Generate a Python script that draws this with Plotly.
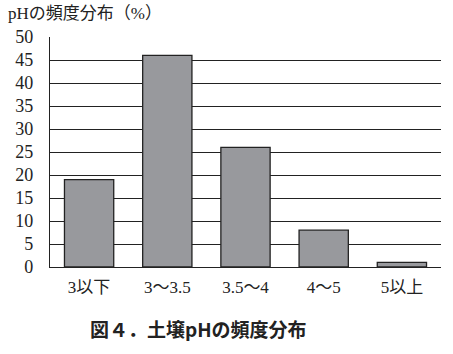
import plotly.graph_objects as go

categories = ["3以下", "3～3.5", "3.5～4", "4～5", "5以上"]
values = [19, 46, 26, 8, 1]
y_ticks = [0, 5, 10, 15, 20, 25, 30, 35, 40, 45, 50]
axis_title = "pHの頻度分布（%）"
caption = "図４．土壌pHの頻度分布"

serif = "Liberation Serif, DejaVu Serif, Noto Sans CJK JP, serif"
sans = "Noto Sans CJK JP, Noto Sans, sans-serif"

fig = go.Figure()
fig.add_trace(go.Bar(
    x=categories, y=values,
    marker=dict(color="#98999d", line=dict(color="#222222", width=1.3)),
))

fig.update_layout(
    width=453, height=354,
    margin=dict(l=50, r=12, t=37, b=87),
    paper_bgcolor="white", plot_bgcolor="white",
    bargap=0.37,
    showlegend=False,
    font=dict(family=serif, color="#222222", size=17),
    xaxis=dict(
        showline=True, linecolor="#222222", linewidth=1.3,
        ticks="", ticklabelstandoff=4,
        tickfont=dict(family=serif, size=17, color="#222222"),
        showgrid=False,
    ),
    yaxis=dict(
        range=[0, 50], tickvals=y_ticks,
        showline=True, linecolor="#222222", linewidth=1.3,
        showgrid=True, gridcolor="#222222", gridwidth=1.3,
        ticks="", ticklabelstandoff=12,
        tickfont=dict(family=serif, size=18, color="#222222"),
        zeroline=False,
    ),
    annotations=[
        dict(text=axis_title, xref="paper", yref="paper", x=0, y=1,
             xshift=-44, yshift=24, xanchor="left", yanchor="middle",
             showarrow=False, font=dict(family=serif, size=17, color="#222222")),
        dict(text="<b>" + caption + "</b>", xref="paper", yref="paper", x=0.379, y=0,
             yshift=-61, xanchor="center", yanchor="middle",
             showarrow=False, font=dict(family=sans, size=19, color="#222222")),
    ],
)

fig.write_html("out.html")
